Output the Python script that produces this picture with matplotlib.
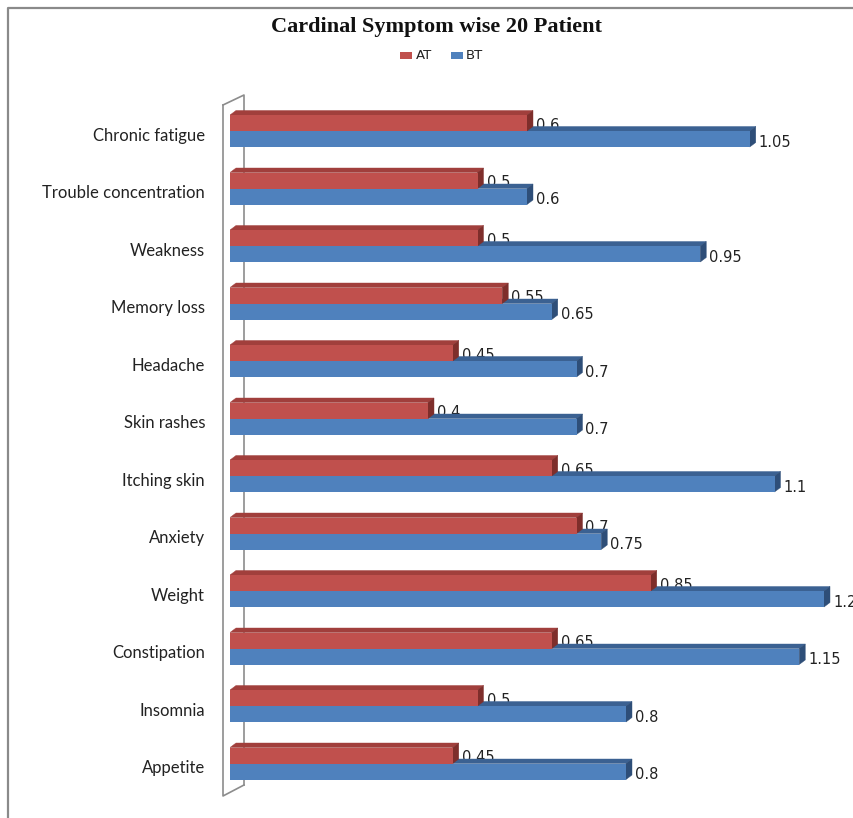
import matplotlib
matplotlib.use("Agg")
import matplotlib.pyplot as plt
from matplotlib.patches import Polygon, Rectangle
from matplotlib.lines import Line2D

categories = ["Chronic fatigue", "Trouble concentration", "Weakness", "Memory loss",
              "Headache", "Skin rashes", "Itching skin", "Anxiety", "Weight",
              "Constipation", "Insomnia", "Appetite"]
at_values = [0.6, 0.5, 0.5, 0.55, 0.45, 0.4, 0.65, 0.7, 0.85, 0.65, 0.5, 0.45]
bt_values = [1.05, 0.6, 0.95, 0.65, 0.7, 0.7, 1.1, 0.75, 1.2, 1.15, 0.8, 0.8]
at_labels = ["0.6", "0.5", "0.5", "0.55", "0.45", "0.4", "0.65", "0.7", "0.85", "0.65", "0.5", "0.45"]
bt_labels = ["1.05", "0.6", "0.95", "0.65", "0.7", "0.7", "1.1", "0.75", "1.2", "1.15", "0.8", "0.8"]

W, H = 854, 818
fig = plt.figure(figsize=(W / 100, H / 100), dpi=100)

# axes placement in pixels
x0_px, x1_px = 230, 854
y_top_px, y_bot_px = 95, 796
ax = fig.add_axes([x0_px / W, 1 - y_bot_px / H, (x1_px - x0_px) / W, (y_bot_px - y_top_px) / H])

px_per_unit = 495.0
row_px = 57.5
xmax = (x1_px - x0_px) / px_per_unit
ymin = (y_top_px - 131) / row_px
ymax = (y_bot_px - 131) / row_px
ax.set_xlim(0, xmax)
ax.set_ylim(ymax, ymin)
ax.axis("off")

bar_h = 16 / row_px
ddx = 6 / px_per_unit
ddy = 4.5 / row_px

red_face, red_top, red_side = "#C0504D", "#A13F3C", "#7E2E2B"
blue_face, blue_top, blue_side = "#4F81BD", "#3B6192", "#2E4E78"


def bar3d(v, ytop, face, top, side, z):
    ybot = ytop + bar_h
    ax.add_patch(Polygon([(0, ytop), (v, ytop), (v + ddx, ytop - ddy), (ddx, ytop - ddy)],
                         closed=True, facecolor=top, edgecolor=top, lw=0.3, zorder=z))
    ax.add_patch(Polygon([(v, ytop), (v, ybot), (v + ddx, ybot - ddy), (v + ddx, ytop - ddy)],
                         closed=True, facecolor=side, edgecolor=side, lw=0.3, zorder=z))
    ax.add_patch(Rectangle((0, ytop), v, bar_h, facecolor=face, edgecolor="none", zorder=z + 0.001))


for i, cat in enumerate(categories):
    # blue (BT) below, drawn first
    bar3d(bt_values[i], i, blue_face, blue_top, blue_side, 2 + i * 0.01)
    bar3d(at_values[i], i - bar_h, red_face, red_top, red_side, 3 + i * 0.01)
    ax.text(at_values[i] + 9 / px_per_unit, i - bar_h / 2 + 0.04, at_labels[i],
            fontsize=10.5, family="DejaVu Sans", color="#222222", va="center", ha="left",
            zorder=1.5 + i * 0.01, clip_on=False)
    ax.text(bt_values[i] + 9 / px_per_unit, i + bar_h / 2 + 0.06, bt_labels[i],
            fontsize=10.5, family="DejaVu Sans", color="#222222", va="center", ha="left",
            zorder=5, clip_on=False)
    ax.text(-25 / px_per_unit, i + 0.08, cat, fontsize=12, family="Lato",
            color="#222222", va="center", ha="right", clip_on=False)

# left 3D wall
wall_color = "#8C8C8C"
fx = lambda px: px / W
fy = lambda py: 1 - py / H
fig.add_artist(Line2D([fx(223), fx(223), fx(244), fx(244)], [fy(105), fy(796), fy(785), fy(785)],
                      color=wall_color, lw=1.2))
fig.add_artist(Line2D([fx(223), fx(244), fx(244)], [fy(105), fy(95), fy(785)],
                      color=wall_color, lw=1.2, zorder=0))

# outer frame (top and left)
fig.add_artist(Line2D([fx(8), fx(8), fx(853)], [fy(818), fy(7.5), fy(7.5)],
                      color="#8A8A8A", lw=1.6))

# title
fig.text(fx(437), fy(27), "Cardinal Symptom wise 20 Patient", family="Liberation Serif",
         fontweight="bold", fontsize=16, ha="center", va="center", color="#111111")

# legend
fig.patches.append(Rectangle((fx(400), fy(59)), 12 / W, 7 / H, transform=fig.transFigure,
                             facecolor=red_face, edgecolor="none"))
fig.text(fx(416), fy(55.5), "AT", fontsize=9.5, family="DejaVu Sans", va="center", ha="left", color="#222222")
fig.patches.append(Rectangle((fx(451), fy(59)), 12 / W, 7 / H, transform=fig.transFigure,
                             facecolor=blue_face, edgecolor="none"))
fig.text(fx(466), fy(55.5), "BT", fontsize=9.5, family="DejaVu Sans", va="center", ha="left", color="#222222")

fig.savefig("out.png", dpi=100)
